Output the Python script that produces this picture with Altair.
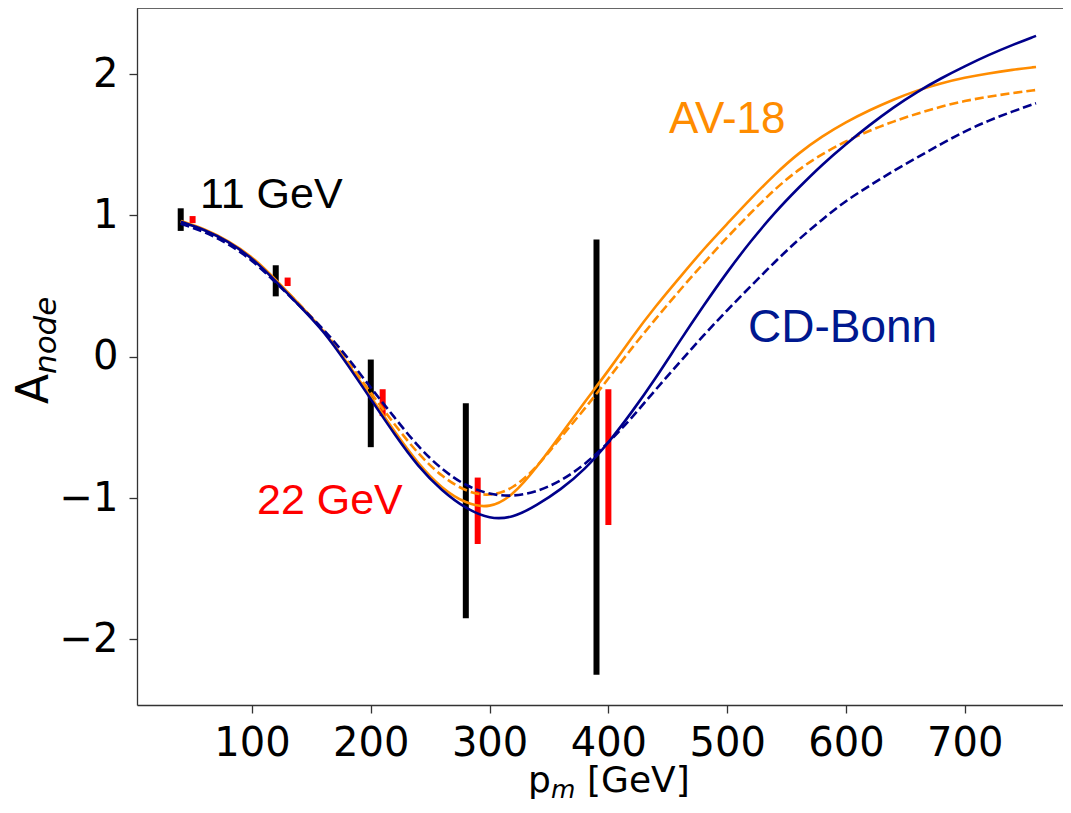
import altair as alt
import pandas as pd

# ---------------- data ----------------
p_m = [40, 60, 80, 100, 120, 140, 160, 180, 200, 220, 240, 260, 280, 300, 320,
       340, 360, 380, 400, 420, 440, 460, 480, 500, 520, 540, 560, 580, 600, 620,
       640, 660, 680, 700, 720, 740, 760]

av18_solid = [0.96, 0.905, 0.82, 0.71, 0.545, 0.37, 0.19, -0.04, -0.285, -0.53,
              -0.76, -0.935, -1.04, -1.075, -0.98, -0.78, -0.55, -0.32, -0.10, 0.14,
              0.36, 0.56, 0.76, 0.94, 1.12, 1.29, 1.44, 1.56, 1.66, 1.745,
              1.82, 1.885, 1.935, 1.975, 2.005, 2.03, 2.05]

av18_dashed = [0.955, 0.90, 0.815, 0.70, 0.54, 0.37, 0.195, -0.025, -0.255, -0.48,
               -0.69, -0.85, -0.955, -0.99, -0.935, -0.78, -0.57, -0.37, -0.155, 0.065,
               0.27, 0.47, 0.66, 0.845, 1.02, 1.185, 1.325, 1.435, 1.525, 1.60,
               1.665, 1.72, 1.77, 1.81, 1.84, 1.865, 1.887]

cdbonn_solid = [0.955, 0.90, 0.815, 0.70, 0.535, 0.36, 0.185, -0.05, -0.30, -0.55,
                -0.78, -0.95, -1.075, -1.15, -1.14, -1.05, -0.94, -0.80, -0.61, -0.39,
                -0.15, 0.11, 0.36, 0.60, 0.82, 1.02, 1.195, 1.36, 1.505, 1.64,
                1.765, 1.875, 1.97, 2.055, 2.135, 2.205, 2.27]

cdbonn_dashed = [0.94, 0.885, 0.80, 0.685, 0.525, 0.36, 0.20, 0.0, -0.22, -0.43,
                 -0.64, -0.80, -0.915, -0.975, -0.99, -0.955, -0.88, -0.765, -0.61, -0.43,
                 -0.23, -0.04, 0.15, 0.33, 0.50, 0.67, 0.83, 0.97, 1.105, 1.21,
                 1.315, 1.41, 1.505, 1.595, 1.67, 1.735, 1.793]

# 11 GeV projections (black)
e11_p = [40, 120, 200, 280, 390]
e11_A = [0.97, 0.537, -0.33, -1.09, -0.71]
e11_err = [0.08, 0.11, 0.31, 0.76, 1.54]

# 22 GeV projections (red)
e22_p = [50, 130, 210, 290, 400]
e22_A = [0.97, 0.53, -0.325, -1.09, -0.71]
e22_err = [0.025, 0.03, 0.095, 0.235, 0.48]

x_ticks = [100, 200, 300, 400, 500, 600, 700]
y_ticks = [-2, -1, 0, 1, 2]

ann_text = ["11 GeV", "22 GeV", "AV-18", "CD-Bonn"]
ann_p = [56.2, 104.2, 451.0, 517.5]
ann_A = [1.052, -1.113, 1.582, 0.104]
ann_color = ["#000000", "#FF0000", "#FF8C00", "#00188F"]
ann_size = [43, 43, 44, 46]

# ---------------- layout ----------------
W, H = 926, 697
ORANGE = "#FF8C00"
NAVY = "#00008B"
AXC = "#333333"

xs = alt.Scale(domain=[3.2, 782.7], nice=False, zero=False)
ys = alt.Scale(domain=[-2.464, 2.467], nice=False, zero=False)

xaxis = alt.Axis(values=x_ticks, title=None, grid=False, labelFont="DejaVu Sans",
                 labelFontSize=40, labelColor="black", labelPadding=10,
                 tickSize=8, tickWidth=1.3, tickColor=AXC, domainColor=AXC,
                 domainWidth=1.3, labelFlush=False, labelOverlap=False)
yaxis = alt.Axis(values=y_ticks, title=None, grid=False, labelFont="DejaVu Sans",
                 labelFontSize=40, labelColor="black", labelPadding=11,
                 tickSize=8, tickWidth=1.3, tickColor=AXC, domainColor=AXC,
                 domainWidth=1.3, labelFlush=False, labelOverlap=False)

X = lambda f: alt.X(f, scale=xs, axis=xaxis)
Y = lambda f: alt.Y(f, scale=ys, axis=yaxis)


def curve(values, color, dash=None):
    df = pd.DataFrame({"p": p_m, "A": values})
    kw = dict(color=color, strokeWidth=2.6, interpolate="basis")
    if dash:
        kw["strokeDash"] = dash
    return alt.Chart(df).mark_line(**kw).encode(x=X("p:Q"), y=Y("A:Q"))


def bars(ps, cs, es, color):
    df = pd.DataFrame({"p": ps, "lo": [c - e for c, e in zip(cs, es)],
                       "hi": [c + e for c, e in zip(cs, es)]})
    return alt.Chart(df).mark_rule(color=color, strokeWidth=6).encode(
        x=X("p:Q"), y=Y("lo:Q"), y2="hi:Q")


ann_df = pd.DataFrame({"t": ann_text, "p": ann_p, "A": ann_A, "c": ann_color,
                       "s": ann_size})
annotations = alt.Chart(ann_df).mark_text(
    font="Liberation Sans", align="left", baseline="alphabetic"
).encode(x=X("p:Q"), y=Y("A:Q"), text="t:N",
         color=alt.Color("c:N", scale=None),
         size=alt.Size("s:Q", scale=None))

top_border = alt.Chart(pd.DataFrame({"a": [0]})).mark_rule(
    color=AXC, strokeWidth=1.3
).encode(x=alt.value(0), x2=alt.value(W), y=alt.value(0))


def label(text, x, y, size, italic=False, angle=0):
    kw = dict(text=text, font="DejaVu Sans", fontSize=size, align="left",
              baseline="alphabetic", color="black")
    if italic:
        kw["fontStyle"] = "italic"
    if angle:
        kw["angle"] = angle
    return alt.Chart(pd.DataFrame({"a": [0]})).mark_text(**kw).encode(
        x=alt.value(x), y=alt.value(y))


# x title: p_m [GeV]
xt = [label("p", 391, 784, 36),
      label("m", 414, 790, 25, italic=True),
      label("[GeV]", 450, 784, 36)]
# y title: A_node (rotated)
yt = [label("A", -89, 396, 44, angle=270),
      label("node", -81, 366, 31, italic=True, angle=270)]

layers = [bars(e11_p, e11_A, e11_err, "black"),
          bars(e22_p, e22_A, e22_err, "#FF0000"),
          curve(av18_solid, ORANGE),
          curve(av18_dashed, ORANGE, dash=[9, 4]),
          curve(cdbonn_solid, NAVY),
          curve(cdbonn_dashed, NAVY, dash=[9, 4]),
          annotations, top_border] + xt + yt

chart = alt.layer(*layers).properties(
    width=W, height=H,
    autosize=alt.AutoSizeParams(type="none"),
    padding={"left": 129, "top": 0, "right": 0, "bottom": 99},
    background="white",
).configure_view(stroke="transparent")

chart.save("out.html", embed_options={"renderer": "svg", "actions": False})
